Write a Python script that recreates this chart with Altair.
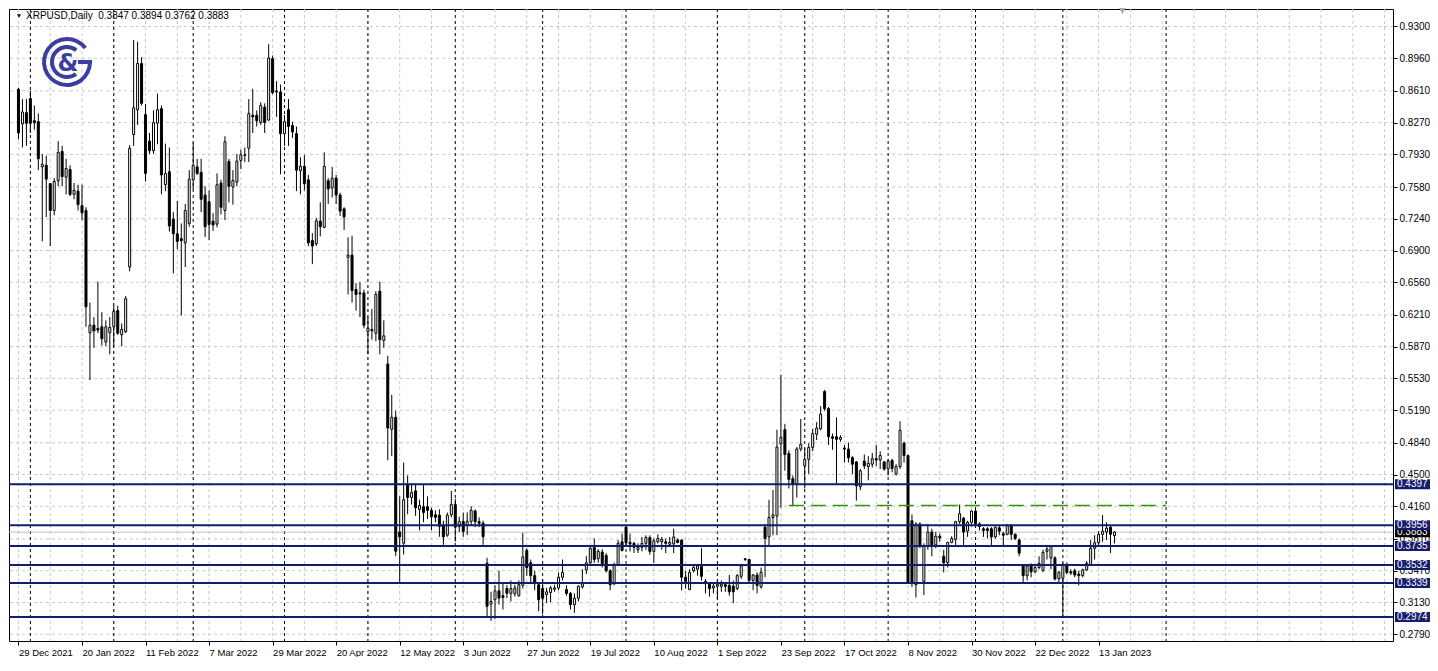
import json
import pandas as pd
import altair as alt

# ---------------- data ----------------
symbol = "XRPUSD"
timeframe = "Daily"
first_date = "2021-12-29"

opens = [
    0.8626, 0.8256, 0.8377, 0.8529, 0.8290, 0.8280, 0.7796, 0.7813, 0.7616, 0.7329,
    0.7647, 0.7962, 0.7685, 0.7768, 0.7501, 0.7536, 0.7380, 0.7329, 0.6020, 0.6100,
    0.6066, 0.6083, 0.5920, 0.6020, 0.6083, 0.6256, 0.5997, 0.6031, 0.6723, 0.8142,
    0.8408, 0.8903, 0.8356, 0.8072, 0.7969, 0.8263, 0.8419, 0.7605, 0.7744, 0.7235,
    0.7079, 0.7027, 0.6982, 0.7190, 0.7657, 0.7796, 0.7737, 0.7494, 0.7422, 0.7214,
    0.7183, 0.7623, 0.7329, 0.7854, 0.7581, 0.7633, 0.7865, 0.7924, 0.7996, 0.8349,
    0.8349, 0.8273, 0.8436, 0.8297, 0.8955, 0.8609, 0.8598, 0.8152, 0.8408, 0.8238,
    0.8152, 0.7754, 0.7802, 0.7657, 0.7006, 0.6972, 0.7214, 0.7148, 0.7647, 0.7571,
    0.7675, 0.7494, 0.7346, 0.6827, 0.6851, 0.6481, 0.6446, 0.6446, 0.6031, 0.6055,
    0.6014, 0.6464, 0.5937, 0.5684, 0.4985, 0.5113, 0.3885, 0.3764, 0.4394, 0.4255,
    0.4325, 0.4127, 0.4155, 0.4155, 0.4117, 0.4069, 0.4065, 0.3947, 0.3851, 0.4069,
    0.4179, 0.3944, 0.3996, 0.3954, 0.3999, 0.4110, 0.3996, 0.3979, 0.3550, 0.3114,
    0.3159, 0.3255, 0.3203, 0.3280, 0.3227, 0.3223, 0.3202, 0.3313, 0.3687, 0.3555,
    0.3417, 0.3320, 0.3279, 0.3216, 0.3237, 0.3272, 0.3286, 0.3400, 0.3268, 0.3227,
    0.3106, 0.3175, 0.3296, 0.3479, 0.3555, 0.3718, 0.3600, 0.3670, 0.3632, 0.3469,
    0.3331, 0.3538, 0.3780, 0.3936, 0.3773, 0.3763, 0.3694, 0.3721, 0.3763, 0.3825,
    0.3677, 0.3780, 0.3780, 0.3780, 0.3753, 0.3756, 0.3798, 0.3798, 0.3400, 0.3268,
    0.3469, 0.3486, 0.3514, 0.3355, 0.3324, 0.3286, 0.3303, 0.3303, 0.3320, 0.3313,
    0.3303, 0.3279, 0.3410, 0.3597, 0.3590, 0.3365, 0.3424, 0.3296, 0.3936, 0.3832,
    0.4040, 0.4057, 0.4829, 0.4981, 0.4725, 0.4455, 0.4393, 0.4773, 0.4593, 0.4663,
    0.4791, 0.4932, 0.4991, 0.5389, 0.5206, 0.4905, 0.4905, 0.4877, 0.4784, 0.4773,
    0.4680, 0.4635, 0.4369, 0.4645, 0.4586, 0.4611, 0.4670, 0.4656, 0.4635, 0.4559,
    0.4652, 0.4507, 0.4586, 0.4836, 0.4704, 0.4005, 0.3320, 0.3971, 0.3355, 0.3728,
    0.3884, 0.3746, 0.3839, 0.3625, 0.3555, 0.3773, 0.3805, 0.3995, 0.4033, 0.3894,
    0.3988, 0.4109, 0.3971, 0.3919, 0.3919, 0.3919, 0.3832, 0.3929, 0.3867, 0.3860,
    0.3953, 0.3860, 0.3798, 0.3521, 0.3417, 0.3521, 0.3459, 0.3504, 0.3469, 0.3677,
    0.3607, 0.3607, 0.3382, 0.3389, 0.3538, 0.3459, 0.3469, 0.3434, 0.3417, 0.3479,
    0.3528, 0.3711, 0.3770, 0.3860, 0.3884, 0.3936, 0.3847,
]
highs = [
    0.8643, 0.8522, 0.8522, 0.8609, 0.8453, 0.8367, 0.7934, 0.7917, 0.7623, 0.7675,
    0.8072, 0.8021, 0.7882, 0.7813, 0.7623, 0.7605, 0.7605, 0.7363, 0.6342, 0.6187,
    0.6567, 0.6239, 0.6152, 0.6187, 0.6308, 0.6308, 0.6118, 0.6412, 0.8028, 0.9155,
    0.9135, 0.8972, 0.8470, 0.8159, 0.8401, 0.8581, 0.8453, 0.8045, 0.8003, 0.7311,
    0.7432, 0.7190, 0.7398, 0.7761, 0.8055, 0.7882, 0.7882, 0.7588, 0.7543, 0.7301,
    0.7726, 0.7657, 0.8124, 0.7882, 0.7761, 0.7934, 0.7979, 0.8003, 0.8522, 0.8633,
    0.8401, 0.8488, 0.8477, 0.9110, 0.8989, 0.8713, 0.8678, 0.8349, 0.8522, 0.8280,
    0.8228, 0.7899, 0.7924, 0.7709, 0.7086, 0.7249, 0.7415, 0.7951, 0.7675, 0.7796,
    0.7709, 0.7519, 0.7363, 0.7041, 0.7059, 0.6550, 0.6561, 0.6481, 0.6187, 0.6273,
    0.6464, 0.6567, 0.6152, 0.5771, 0.5356, 0.5183, 0.4266, 0.4629, 0.4491, 0.4404,
    0.4404, 0.4231, 0.4394, 0.4266, 0.4145, 0.4117, 0.4127, 0.4006, 0.4093, 0.4325,
    0.4241, 0.4048, 0.4093, 0.4093, 0.4162, 0.4127, 0.4041, 0.4006, 0.3608, 0.3245,
    0.3314, 0.3470, 0.3349, 0.3314, 0.3365, 0.3320, 0.3365, 0.3874, 0.3711, 0.3590,
    0.3469, 0.3348, 0.3382, 0.3286, 0.3306, 0.3320, 0.3452, 0.3590, 0.3313, 0.3244,
    0.3227, 0.3313, 0.3486, 0.3625, 0.3735, 0.3815, 0.3701, 0.3701, 0.3659, 0.3486,
    0.3555, 0.3798, 0.3867, 0.3943, 0.3867, 0.3780, 0.3763, 0.3832, 0.3849, 0.3849,
    0.3815, 0.3860, 0.3832, 0.3815, 0.3832, 0.3919, 0.3815, 0.3805, 0.3469, 0.3486,
    0.3521, 0.3538, 0.3711, 0.3382, 0.3348, 0.3348, 0.3365, 0.3365, 0.3348, 0.3424,
    0.3365, 0.3434, 0.3538, 0.3607, 0.3597, 0.3434, 0.3452, 0.3504, 0.3971, 0.4230,
    0.4334, 0.4981, 0.5569, 0.5043, 0.4760, 0.4490, 0.4794, 0.5095, 0.4784, 0.4836,
    0.4991, 0.5061, 0.5234, 0.5407, 0.5223, 0.4939, 0.5112, 0.4922, 0.4818, 0.4843,
    0.4697, 0.4645, 0.4559, 0.4715, 0.4697, 0.4732, 0.4818, 0.4749, 0.4645, 0.4663,
    0.4670, 0.4611, 0.5071, 0.4853, 0.4714, 0.4074, 0.3988, 0.3988, 0.3763, 0.3971,
    0.3919, 0.3884, 0.3867, 0.3694, 0.3780, 0.3839, 0.4005, 0.4178, 0.4047, 0.4005,
    0.4116, 0.4126, 0.3988, 0.3936, 0.3936, 0.3936, 0.3943, 0.3953, 0.3884, 0.3971,
    0.3971, 0.3867, 0.3815, 0.3538, 0.3538, 0.3549, 0.3521, 0.3625, 0.3694, 0.3735,
    0.3746, 0.3625, 0.3469, 0.3555, 0.3555, 0.3486, 0.3493, 0.3469, 0.3493, 0.3573,
    0.3798, 0.3850, 0.3894, 0.4067, 0.3988, 0.3953, 0.3894,
]
lows = [
    0.8090, 0.8003, 0.8021, 0.8159, 0.8194, 0.7761, 0.6999, 0.7259, 0.6948, 0.7277,
    0.7588, 0.7588, 0.7501, 0.7484, 0.7449, 0.7329, 0.7225, 0.6083, 0.5512, 0.5858,
    0.6014, 0.5882, 0.5875, 0.5789, 0.5875, 0.5997, 0.5875, 0.6014, 0.6678, 0.8021,
    0.8245, 0.8453, 0.7640, 0.7934, 0.7934, 0.8038, 0.7501, 0.7536, 0.7103, 0.6654,
    0.6913, 0.6204, 0.6723, 0.7155, 0.7553, 0.7709, 0.7311, 0.7045, 0.7010, 0.7110,
    0.7148, 0.7287, 0.7225, 0.7415, 0.7391, 0.7588, 0.7771, 0.7847, 0.7847, 0.8159,
    0.8228, 0.8245, 0.8159, 0.8290, 0.8574, 0.8332, 0.7716, 0.8021, 0.8021, 0.8107,
    0.7536, 0.7501, 0.7543, 0.6948, 0.6754, 0.6948, 0.7052, 0.7138, 0.7398, 0.7467,
    0.7398, 0.7270, 0.7121, 0.6429, 0.6342, 0.6256, 0.6187, 0.6066, 0.5789, 0.5944,
    0.5927, 0.5789, 0.5858, 0.4653, 0.4698, 0.3626, 0.3332, 0.3643, 0.4075, 0.4179,
    0.4058, 0.3902, 0.3989, 0.4024, 0.3902, 0.3989, 0.3833, 0.3747, 0.3833, 0.4041,
    0.3781, 0.3885, 0.3833, 0.3851, 0.3954, 0.3937, 0.3937, 0.3747, 0.2985, 0.2934,
    0.2951, 0.3107, 0.3055, 0.3176, 0.3140, 0.3192, 0.3192, 0.3279, 0.3417, 0.3331,
    0.3261, 0.3036, 0.3002, 0.3123, 0.3133, 0.3244, 0.3261, 0.3365, 0.3202, 0.3054,
    0.3019, 0.3140, 0.3279, 0.3434, 0.3538, 0.3555, 0.3555, 0.3504, 0.3452, 0.3261,
    0.3313, 0.3521, 0.3677, 0.3746, 0.3677, 0.3659, 0.3659, 0.3677, 0.3694, 0.3642,
    0.3555, 0.3763, 0.3694, 0.3659, 0.3735, 0.3659, 0.3763, 0.3261, 0.3279, 0.3261,
    0.3452, 0.3417, 0.3365, 0.3227, 0.3192, 0.3227, 0.3175, 0.3244, 0.3244, 0.3202,
    0.3123, 0.3261, 0.3382, 0.3573, 0.3348, 0.3261, 0.3227, 0.3279, 0.3400, 0.3728,
    0.3850, 0.3850, 0.4144, 0.4541, 0.4351, 0.4161, 0.4254, 0.4749, 0.4351, 0.4507,
    0.4749, 0.4870, 0.4974, 0.5182, 0.4818, 0.4766, 0.4403, 0.4853, 0.4628, 0.4628,
    0.4507, 0.4220, 0.4334, 0.4559, 0.4438, 0.4576, 0.4593, 0.4559, 0.4541, 0.4490,
    0.4524, 0.4490, 0.4559, 0.4628, 0.3331, 0.3296, 0.3182, 0.3711, 0.3209, 0.3694,
    0.3625, 0.3711, 0.3780, 0.3452, 0.3504, 0.3763, 0.3746, 0.3971, 0.3735, 0.3832,
    0.3953, 0.3936, 0.3901, 0.3832, 0.3815, 0.3746, 0.3815, 0.3850, 0.3728, 0.3850,
    0.3798, 0.3798, 0.3625, 0.3348, 0.3365, 0.3400, 0.3445, 0.3486, 0.3459, 0.3590,
    0.3486, 0.3365, 0.3348, 0.2985, 0.3434, 0.3424, 0.3400, 0.3313, 0.3400, 0.3469,
    0.3521, 0.3590, 0.3746, 0.3780, 0.3798, 0.3659, 0.3762,
]
closes = [
    0.8159, 0.8384, 0.8263, 0.8263, 0.8270, 0.7882, 0.7823, 0.7664, 0.7329, 0.7640,
    0.7951, 0.7692, 0.7778, 0.7501, 0.7543, 0.7391, 0.7304, 0.6297, 0.6100, 0.6038,
    0.6048, 0.5955, 0.6083, 0.6076, 0.6249, 0.6014, 0.6055, 0.6384, 0.7993, 0.8429,
    0.8903, 0.8477, 0.7726, 0.7969, 0.8270, 0.8408, 0.7709, 0.7726, 0.7162, 0.7079,
    0.6996, 0.7006, 0.7329, 0.7664, 0.7813, 0.7726, 0.7449, 0.7155, 0.7180, 0.7173,
    0.7605, 0.7363, 0.8065, 0.7588, 0.7650, 0.7858, 0.7924, 0.7920, 0.8367, 0.8332,
    0.8290, 0.8453, 0.8270, 0.8962, 0.8591, 0.8598, 0.8152, 0.8280, 0.8228, 0.8169,
    0.7761, 0.7802, 0.7616, 0.6982, 0.6948, 0.7218, 0.7155, 0.7802, 0.7560, 0.7675,
    0.7494, 0.7322, 0.7259, 0.6851, 0.6470, 0.6429, 0.6436, 0.6100, 0.6066, 0.6041,
    0.6429, 0.5944, 0.5986, 0.4999, 0.5113, 0.3678, 0.3833, 0.4231, 0.4255, 0.4307,
    0.4145, 0.4169, 0.4093, 0.4117, 0.4048, 0.4041, 0.3944, 0.3833, 0.4065, 0.4179,
    0.3937, 0.3996, 0.3892, 0.3999, 0.4117, 0.3996, 0.3979, 0.3833, 0.3089, 0.3141,
    0.3255, 0.3176, 0.3183, 0.3228, 0.3279, 0.3286, 0.3320, 0.3618, 0.3504, 0.3417,
    0.3331, 0.3158, 0.3175, 0.3244, 0.3286, 0.3286, 0.3400, 0.3452, 0.3227, 0.3106,
    0.3175, 0.3303, 0.3331, 0.3555, 0.3711, 0.3590, 0.3677, 0.3545, 0.3469, 0.3320,
    0.3538, 0.3763, 0.3687, 0.3770, 0.3756, 0.3721, 0.3721, 0.3763, 0.3825, 0.3677,
    0.3791, 0.3815, 0.3805, 0.3763, 0.3773, 0.3832, 0.3773, 0.3400, 0.3355, 0.3452,
    0.3504, 0.3521, 0.3410, 0.3331, 0.3279, 0.3306, 0.3324, 0.3324, 0.3303, 0.3244,
    0.3244, 0.3417, 0.3521, 0.3590, 0.3365, 0.3424, 0.3313, 0.3452, 0.3815, 0.4040,
    0.4067, 0.4794, 0.4898, 0.4715, 0.4448, 0.4393, 0.4773, 0.4825, 0.4663, 0.4791,
    0.4939, 0.4998, 0.5147, 0.5206, 0.4905, 0.4888, 0.4877, 0.4898, 0.4773, 0.4680,
    0.4611, 0.4379, 0.4541, 0.4593, 0.4621, 0.4670, 0.4656, 0.4704, 0.4559, 0.4645,
    0.4566, 0.4586, 0.4974, 0.4704, 0.3348, 0.3348, 0.3971, 0.3746, 0.3735, 0.3884,
    0.3746, 0.3839, 0.3822, 0.3555, 0.3773, 0.3815, 0.3995, 0.4081, 0.3884, 0.3988,
    0.4109, 0.3971, 0.3943, 0.3901, 0.3901, 0.3832, 0.3936, 0.3894, 0.3850, 0.3953,
    0.3860, 0.3815, 0.3659, 0.3417, 0.3521, 0.3459, 0.3504, 0.3549, 0.3666, 0.3701,
    0.3728, 0.3382, 0.3452, 0.3538, 0.3452, 0.3445, 0.3424, 0.3417, 0.3479, 0.3549,
    0.3711, 0.3770, 0.3860, 0.3894, 0.3926, 0.3860, 0.3883,
]

price_ticks = [0.9300, 0.8960, 0.8610, 0.8270, 0.7930, 0.7580, 0.7240, 0.6900, 0.6560,
               0.6210, 0.5870, 0.5530, 0.5190, 0.4840, 0.4500, 0.4160, 0.3810, 0.3470,
               0.3130, 0.2790]
levels = [0.4397, 0.3956, 0.3735, 0.3532, 0.3339, 0.2974]
bid = 0.3883
green_level = 0.4168
green_start = 194
future_month = "2023-02-01"

# ---------------- derived tables ----------------
n = len(opens)
dates = pd.bdate_range(first_date, periods=n)
df = pd.DataFrame({"i": range(n), "open": opens, "high": highs, "low": lows, "close": closes})
df["lo"] = df[["open", "close"]].min(axis=1)
df["hi"] = df[["open", "close"]].max(axis=1)
df["dir"] = ["up" if c >= o else "down" for o, c in zip(opens, closes)]

label_idx = list(range(0, n, 16))
label_text = [f"{dates[k].day} {dates[k].strftime('%b %Y')}" for k in label_idx]

month_starts = [k for k in range(1, n) if dates[k].month != dates[k - 1].month]
future_sep = (n - 1) + (pd.Timestamp(future_month) - dates[-1]).days
month_starts.append(future_sep)

# ---------------- geometry / style ----------------
W, H = 1384, 632
PX_PER_BAR = 4.0
x_min = -4.5 / PX_PER_BAR
x_max = x_min + W / PX_PER_BAR
y_min, y_max = 0.2717, 0.9487
px_per_unit = H / (y_max - y_min)
box_half = 5.0 / px_per_unit

NAVY = "#141c6e"
FONT = "Liberation Sans"

xscale = alt.Scale(domain=[x_min, x_max], nice=False, zero=False)
yscale = alt.Scale(domain=[y_min, y_max], nice=False, zero=False)

xaxis = alt.Axis(values=label_idx,
                 labelExpr=json.dumps(label_text) + "[round(datum.value/16)]",
                 orient="bottom", grid=False, domain=False, ticks=True, tickSize=4,
                 tickColor="black", labelAlign="left", labelBaseline="top", labelPadding=2,
                 labelFont=FONT, labelFontSize=9.5, labelColor="black", labelFlush=False,
                 labelOverlap=False, title=None)
yaxis = alt.Axis(values=price_ticks, format=".4f", orient="right", grid=False, domain=False,
                 tickSize=4, tickColor="black", labelPadding=2, labelFont=FONT, labelFontSize=10,
                 labelColor="black", labelOverlap=False, labelFlush=False, title=None)


def X(f):
    return alt.X(f, type="quantitative", scale=xscale, axis=xaxis)


def Y(f):
    return alt.Y(f, type="quantitative", scale=yscale, axis=yaxis)


def Y2(f):
    return alt.Y2(f)


one = pd.DataFrame({"a": [0]})

hgrid = alt.Chart(pd.DataFrame({"p": price_ticks})).mark_rule(
    color="#c8c8c8", strokeDash=[3, 3], strokeWidth=1).encode(y=Y("p"))
vgrid = alt.Chart(pd.DataFrame({"i": list(range(0, int(x_max) + 1, 8))})).mark_rule(
    color="#c8c8c8", strokeDash=[3, 3], strokeWidth=1).encode(x=X("i"))
seps = alt.Chart(pd.DataFrame({"i": month_starts})).mark_rule(
    color="black", strokeDash=[3, 3], strokeWidth=1).encode(x=X("i"))
bidline = alt.Chart(pd.DataFrame({"p": [bid]})).mark_rule(
    color="#c0c0c0", strokeWidth=1).encode(y=Y("p"))
green = alt.Chart(pd.DataFrame({"a": [green_start], "b": [future_sep], "p": [green_level]})).mark_rule(
    color="#2f9a00", strokeDash=[15, 7], strokeWidth=1.5).encode(x=X("a"), x2=alt.X2("b"), y=Y("p"))

wicks = alt.Chart(df).mark_rule(color="black", strokeWidth=1).encode(
    x=X("i"), y=Y("low"), y2=Y2("high"))
bodies = alt.Chart(df).mark_bar(size=2, stroke="black", strokeWidth=1, orient="vertical").encode(
    x=X("i"), y=Y("lo"), y2=Y2("hi"),
    fill=alt.Fill("dir:N", scale=alt.Scale(domain=["up", "down"], range=["white", "black"]), legend=None))

lvl = alt.Chart(pd.DataFrame({"p": levels})).mark_rule(color=NAVY, strokeWidth=2).encode(y=Y("p"))

# logo
LOGO = "#3b3e9c"
cx, cy = 58, 53
outer = alt.Chart(one).mark_arc(radius=25, radius2=21, theta=1.571, theta2=7.2, color=LOGO).encode(
    x=alt.value(cx), y=alt.value(cy))
inner = alt.Chart(one).mark_arc(radius=17, radius2=13, theta=2.5, theta2=6.95, color=LOGO).encode(
    x=alt.value(cx), y=alt.value(cy))
gbar = alt.Chart(one).mark_rule(color=LOGO, strokeWidth=4).encode(
    x=alt.value(cx + 11), x2=alt.value(cx + 25), y=alt.value(cy))
amp = alt.Chart(one).mark_text(text="&", font="DejaVu Sans", fontSize=24, fontWeight="bold",
                               color=LOGO, align="center", baseline="middle").encode(
    x=alt.value(cx + 1), y=alt.value(cy + 2))

# header
last = df.iloc[-1]
title_str = f"{symbol},{timeframe}\u00a0\u00a0{last.open:.4f} {last.high:.4f} {last.low:.4f} {last.close:.4f}"
tri = alt.Chart(one).mark_point(shape="triangle-down", filled=True, size=16, color="black",
                                opacity=1).encode(x=alt.value(10), y=alt.value(7))
title = alt.Chart(one).mark_text(align="left", baseline="middle", font=FONT, fontSize=10,
                                 color="black").encode(x=alt.value(17), y=alt.value(7),
                                                       text=alt.value(title_str))
shift = alt.Chart(pd.DataFrame({"i": [n + 1]})).mark_point(
    shape="triangle-down", filled=True, size=45, color="#a8a8a8", opacity=1).encode(
    x=X("i"), y=alt.value(2))

# price boxes on the right axis
lv = pd.DataFrame({"p": levels, "txt": [f"{v:.4f}" for v in levels]})
lv["lo"] = lv["p"] - box_half
lv["hi"] = lv["p"] + box_half
boxes = alt.Chart(lv).mark_rect(color=NAVY).encode(
    x=alt.value(W + 2), x2=alt.value(W + 37), y=Y("lo"), y2=Y2("hi"))
boxtxt = alt.Chart(lv).mark_text(align="left", baseline="middle", font=FONT, fontSize=10,
                                 color="white").encode(x=alt.value(W + 4), y=Y("p"), text="txt")
bd = pd.DataFrame({"p": [bid], "txt": [f"{bid:.4f}"], "lo": [bid - box_half], "hi": [bid + box_half]})
bidbox = alt.Chart(bd).mark_rect(color="black").encode(
    x=alt.value(W + 2), x2=alt.value(W + 37), y=Y("lo"), y2=Y2("hi"))
bidtxt = alt.Chart(bd).mark_text(align="left", baseline="middle", font=FONT, fontSize=10,
                                 color="white").encode(x=alt.value(W + 4), y=Y("p"), text="txt")

chart = alt.layer(
    hgrid, vgrid, seps, bidline, wicks, bodies, green, lvl,
    outer, inner, gbar, amp, tri, title, shift,
    bidbox, bidtxt, boxes, boxtxt,
).properties(width=W, height=H, padding=0, background="white").configure_view(
    stroke="black", strokeWidth=1)

chart.save("out.html", embed_options={"renderer": "svg", "actions": False})
